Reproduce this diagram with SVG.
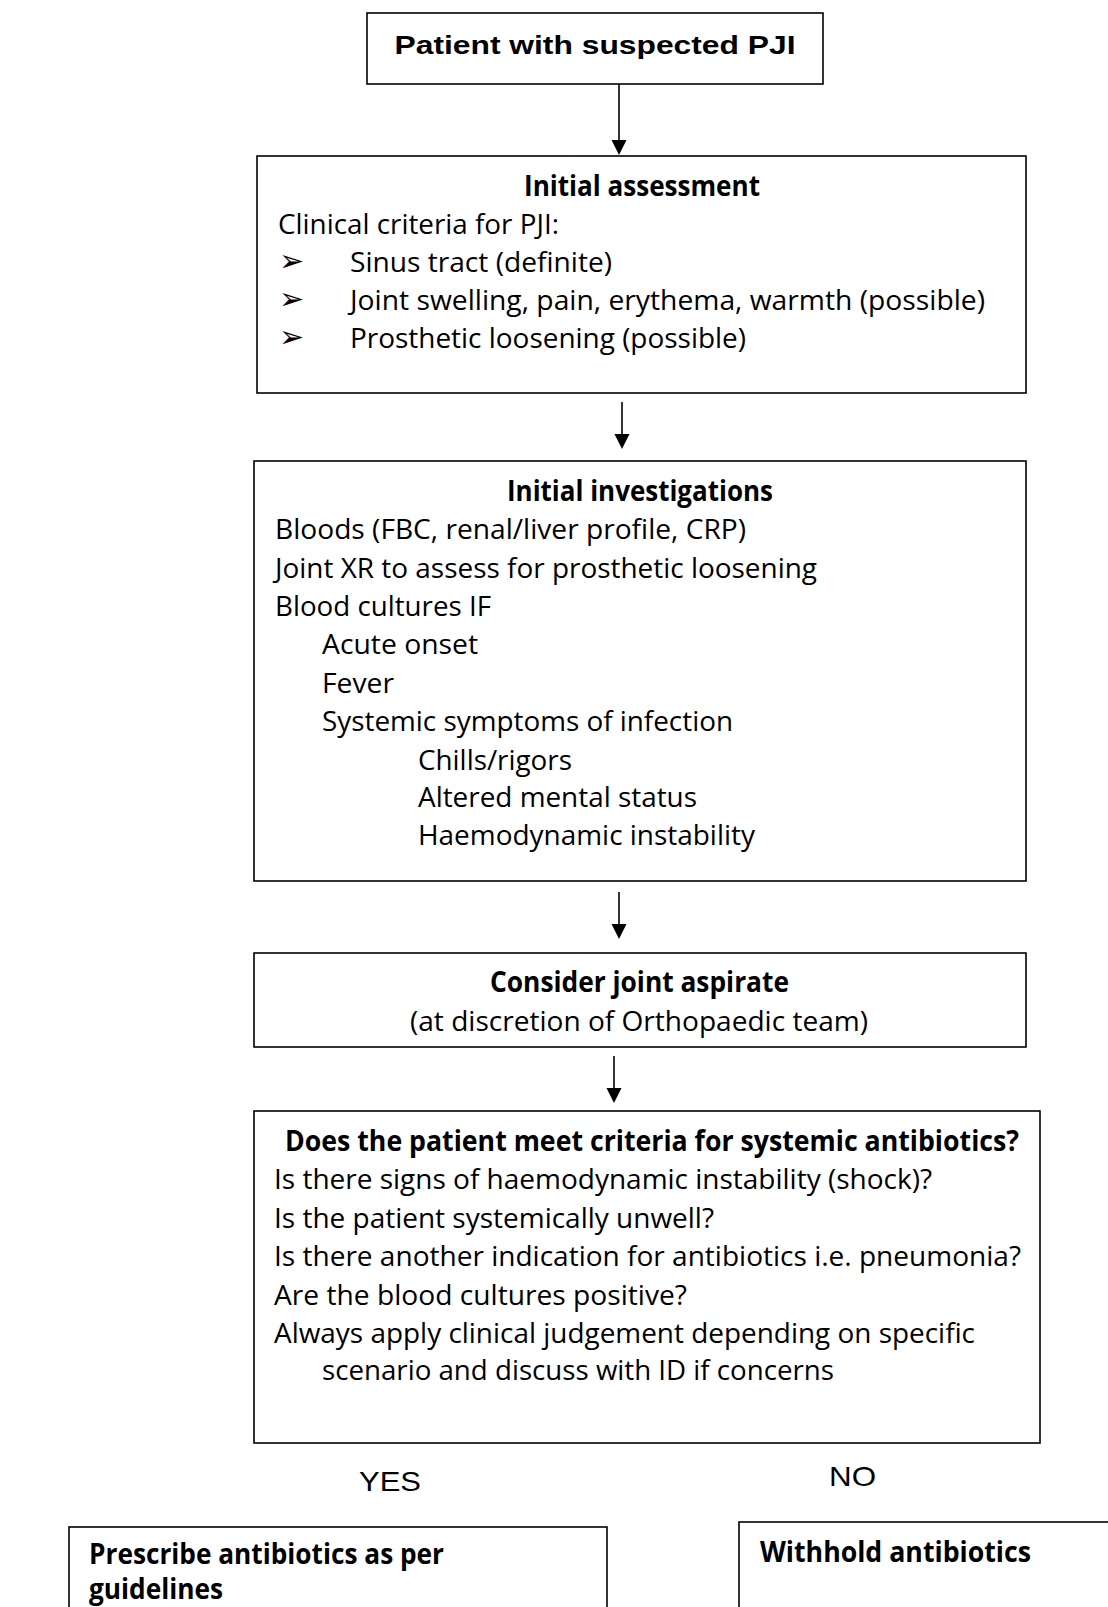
<svg xmlns="http://www.w3.org/2000/svg" width="1108" height="1607" viewBox="0 0 1108 1607">
<defs>
<style>
.box{fill:#fff;stroke:#000;stroke-width:1.6}
.t{font-family:"Open Sans","Liberation Sans",sans-serif;font-size:28px;fill:#000}
.b{font-weight:bold}
.a{font-family:"Liberation Sans",Arial,sans-serif;fill:#000}
.bul{font-family:"DejaVu Sans",sans-serif;font-size:30px;fill:#000}
.conn{stroke:#000;stroke-width:1.6;fill:none}
.head{fill:#000}
</style>
</defs>
<rect width="1108" height="1607" fill="#fff"/>
<g id="connectors">
<line class="conn" x1="619" y1="84" x2="619" y2="142"/>
<path class="head" d="M611.5,140 L626.5,140 L619,155 z"/>
<line class="conn" x1="622" y1="402" x2="622" y2="436"/>
<path class="head" d="M614.5,434 L629.5,434 L622,449 z"/>
<line class="conn" x1="619" y1="892" x2="619" y2="926"/>
<path class="head" d="M611.5,924 L626.5,924 L619,939 z"/>
<line class="conn" x1="614" y1="1056" x2="614" y2="1090"/>
<path class="head" d="M606.5,1088 L621.5,1088 L614,1103 z"/>
</g>
<g id="n1">
<rect class="box" x="367" y="13" width="456" height="71"/>
<text class="a b" x="595" y="54" font-size="26" text-anchor="middle" textLength="401" lengthAdjust="spacingAndGlyphs">Patient with suspected PJI</text>
</g>
<g id="n2">
<rect class="box" x="257" y="156" width="769" height="237"/>
<text class="t b" x="524" y="196" textLength="236" lengthAdjust="spacingAndGlyphs">Initial assessment</text>
<text class="t" x="278" y="234" textLength="281" lengthAdjust="spacingAndGlyphs">Clinical criteria for PJI:</text>
<text class="bul" x="279" y="271">➢</text>
<text class="t" x="350" y="272" textLength="262" lengthAdjust="spacingAndGlyphs">Sinus tract (definite)</text>
<text class="bul" x="279" y="309">➢</text>
<text class="t" x="350" y="310" textLength="635" lengthAdjust="spacingAndGlyphs">Joint swelling, pain, erythema, warmth (possible)</text>
<text class="bul" x="279" y="347">➢</text>
<text class="t" x="350" y="348" textLength="396" lengthAdjust="spacingAndGlyphs">Prosthetic loosening (possible)</text>
</g>
<g id="n3">
<rect class="box" x="254" y="461" width="772" height="420"/>
<text class="t b" x="507" y="501" textLength="266" lengthAdjust="spacingAndGlyphs">Initial investigations</text>
<text class="t" x="275" y="539" textLength="471" lengthAdjust="spacingAndGlyphs">Bloods (FBC, renal/liver profile, CRP)</text>
<text class="t" x="275" y="578" textLength="542" lengthAdjust="spacingAndGlyphs">Joint XR to assess for prosthetic loosening</text>
<text class="t" x="275" y="616" textLength="216" lengthAdjust="spacingAndGlyphs">Blood cultures IF</text>
<text class="t" x="322" y="654" textLength="156" lengthAdjust="spacingAndGlyphs">Acute onset</text>
<text class="t" x="322" y="693" textLength="72" lengthAdjust="spacingAndGlyphs">Fever</text>
<text class="t" x="322" y="731" textLength="411" lengthAdjust="spacingAndGlyphs">Systemic symptoms of infection</text>
<text class="t" x="418" y="770" textLength="154" lengthAdjust="spacingAndGlyphs">Chills/rigors</text>
<text class="t" x="418" y="807" textLength="279" lengthAdjust="spacingAndGlyphs">Altered mental status</text>
<text class="t" x="418" y="845" textLength="337" lengthAdjust="spacingAndGlyphs">Haemodynamic instability</text>
</g>
<g id="n4">
<rect class="box" x="254" y="953" width="772" height="94"/>
<text class="t b" x="490" y="992" textLength="299" lengthAdjust="spacingAndGlyphs">Consider joint aspirate</text>
<text class="t" x="410" y="1031" textLength="458" lengthAdjust="spacingAndGlyphs">(at discretion of Orthopaedic team)</text>
</g>
<g id="n5">
<rect class="box" x="254" y="1111" width="786" height="332"/>
<text class="t b" x="285" y="1151" textLength="734" lengthAdjust="spacingAndGlyphs">Does the patient meet criteria for systemic antibiotics?</text>
<text class="t" x="274" y="1189" textLength="658" lengthAdjust="spacingAndGlyphs">Is there signs of haemodynamic instability (shock)?</text>
<text class="t" x="274" y="1228" textLength="440" lengthAdjust="spacingAndGlyphs">Is the patient systemically unwell?</text>
<text class="t" x="274" y="1266" textLength="747" lengthAdjust="spacingAndGlyphs">Is there another indication for antibiotics i.e. pneumonia?</text>
<text class="t" x="274" y="1305" textLength="413" lengthAdjust="spacingAndGlyphs">Are the blood cultures positive?</text>
<text class="t" x="274" y="1343" textLength="701" lengthAdjust="spacingAndGlyphs">Always apply clinical judgement depending on specific</text>
<text class="t" x="322" y="1380" textLength="512" lengthAdjust="spacingAndGlyphs">scenario and discuss with ID if concerns</text>
</g>
<g id="lbl-yes">
<text class="a" x="359" y="1491" font-size="28" textLength="62" lengthAdjust="spacingAndGlyphs">YES</text>
</g>
<g id="lbl-no">
<text class="a" x="829" y="1486" font-size="28" textLength="47" lengthAdjust="spacingAndGlyphs">NO</text>
</g>
<g id="n6">
<rect class="box" x="69" y="1527" width="538" height="100"/>
<text class="t b" x="89" y="1564" textLength="355" lengthAdjust="spacingAndGlyphs">Prescribe antibiotics as per</text>
<text class="t b" x="89" y="1599" textLength="134" lengthAdjust="spacingAndGlyphs">guidelines</text>
</g>
<g id="n7">
<rect class="box" x="739" y="1522" width="400" height="100"/>
<text class="t b" x="760" y="1562" textLength="271" lengthAdjust="spacingAndGlyphs">Withhold antibiotics</text>
</g>
</svg>
